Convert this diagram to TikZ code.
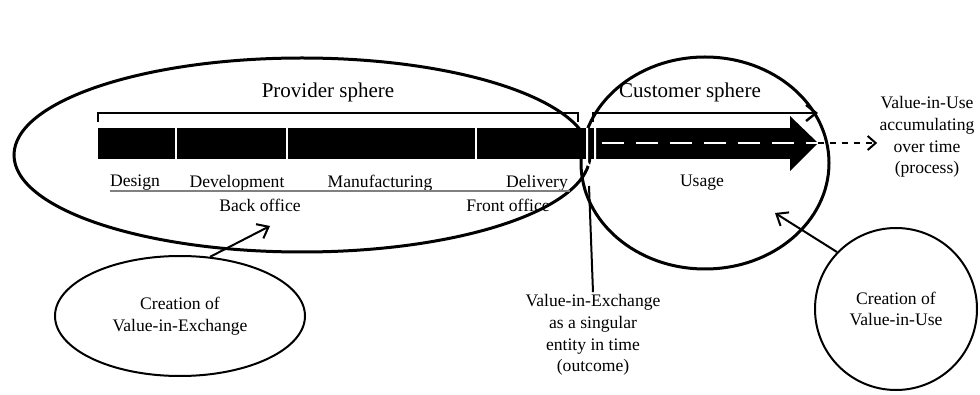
\documentclass[tikz,border=0pt]{standalone}
\usepackage{fontspec}
\setmainfont{Liberation Serif}
\usetikzlibrary{arrows.meta,shapes.geometric}
\begin{document}
\begin{tikzpicture}[x=0.5pt,y=-0.5pt,
    lbl/.style={font=\fontsize{8.8}{10.8}\selectfont,align=center,inner sep=1pt},
    title/.style={font=\fontsize{10.5}{12}\selectfont},
    sphere/.style={line width=1.5pt},
    bubble/.style={draw,line width=1pt,ellipse,lbl},
    gap/.style={white,line width=1.2pt},
    pointer/.style={line width=1pt,-{Straight Barb[length=5pt,width=8pt]}}]
  \useasboundingbox (0,0) rectangle (980,395);
  % spheres
  \draw[sphere] (302,155) ellipse [x radius=288, y radius=97];
  \draw[sphere] (705,163) ellipse [x radius=124, y radius=106];
  % value chain bar
  \fill (98,128) rectangle (790,159);
  \fill (790,116) -- (818,143) -- (790,171) -- cycle;
  \draw[gap] (176,128) -- (176,166);
  \draw[gap] (287,128) -- (287,166);
  \draw[gap] (476,128) -- (476,166);
  \draw[gap,line width=1pt,rounded corners=2pt]
    (587,128) -- (587,166) -- (595,166) -- (595,128);
  % brackets
  \draw[line width=1.2pt] (98,122) -- (98,113) -- (578,113) -- (578,122);
  \draw[pointer,line width=1.2pt] (593,122) -- (593,113) -- (818,113);
  \coordinate (flow) at (602,143);
  \coordinate (flowEnd) at (818,143);
  \draw[white,line width=1.2pt,dash pattern=on 11pt off 6pt] (flow) -- (flowEnd);
  % texts
  \node[title] (provider) at (328,92) {Provider sphere};
  \node[title] (customer) at (690,92) {Customer sphere};
  \node[lbl] (design) at (135,183) {Design};
  \node[lbl] (development) at (237,183) {Development};
  \node[lbl] (manufacturing) at (380,183) {Manufacturing};
  \node[lbl] (delivery) at (537,183) {Delivery};
  \draw[gray,line width=0.8pt] (110,191) -- (570,191);
  \node[lbl] (back) at (260,205) {Back office};
  \node[lbl] (front) at (508,205) {Front office};
  \node[lbl] (usage) at (702,183) {Usage};
  \node[lbl] (process) at (927,137)
    {Value-in-Use\\accumulating\\over time\\(process)};
  \node[lbl] (outcome) at (593,335)
    {Value-in-Exchange\\as a singular\\entity in time\\(outcome)};
  \node[bubble,minimum width=125pt,minimum height=60pt] (vie) at (180,316)
    {Creation of\\Value-in-Exchange};
  \node[bubble,circle,minimum size=81pt] (viu) at (896,309)
    {Creation of\\Value-in-Use};
  \coordinate (vieTip) at (270,226);
  \coordinate (viuTip) at (775,213);
  \coordinate (junction) at (589,186);
  % connectors
  \begin{scope}[line width=1pt]
    \draw[dashed,-{Straight Barb[length=4pt,width=7pt]}] (flowEnd) -- (flowEnd -| process.west);
    \draw[pointer] (vie.63) -- (vieTip);
    \draw[pointer] (viu.136) -- (viuTip);
    \draw (junction) -- (outcome.north);
  \end{scope}
\end{tikzpicture}
\end{document}
